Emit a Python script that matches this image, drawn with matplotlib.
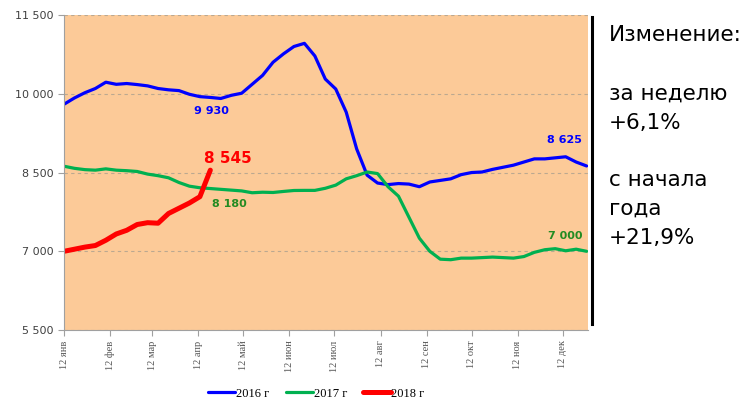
import matplotlib.pyplot as plt

# weekly values, week 0 = 12 Jan
y2016 = [9800, 9920, 10020, 10100, 10220, 10180, 10195, 10175, 10150, 10100,
         10075, 10060, 9990, 9945, 9930, 9910, 9970, 10010, 10180, 10350,
         10600, 10760, 10900, 10960, 10720, 10280, 10090, 9650, 8950, 8450,
         8300, 8270, 8290, 8280, 8230, 8320, 8350, 8380, 8460, 8500,
         8510, 8560, 8600, 8640, 8700, 8760, 8760, 8780, 8800, 8700,
         8625]
y2017 = [8620, 8580, 8555, 8545, 8570, 8545, 8535, 8520, 8470, 8440,
         8400, 8310, 8240, 8210, 8195, 8180, 8165, 8150, 8115, 8125,
         8120, 8140, 8158, 8160, 8160, 8200, 8260, 8380, 8440, 8510,
         8480, 8230, 8050, 7650, 7250, 7000, 6850, 6840, 6870, 6870,
         6880, 6890, 6880, 6870, 6900, 6980, 7030, 7050, 7010, 7040,
         7000]
y2018 = [7000, 7040, 7080, 7110, 7210, 7330, 7400, 7510, 7545, 7535,
         7720, 7820, 7920, 8040, 8545]

tick_days = [0, 31, 59, 90, 120, 151, 181, 212, 243, 273, 304, 334]
tick_labels = ['12 янв', '12 фев', '12 мар', '12 апр', '12 май', '12 июн',
               '12 июл', '12 авг', '12 сен', '12 окт', '12 ноя', '12 дек']

x16 = [7 * i for i in range(len(y2016))]
x17 = [7 * i for i in range(len(y2017))]
x18 = [7 * i for i in range(len(y2018))]

fig = plt.figure(figsize=(7.53, 4.05), dpi=100)
ax = fig.add_axes([0.085, 0.185, 0.696, 0.778])
ax.set_facecolor('#FCCA98')

ax.plot(x16, y2016, color='#0000FF', lw=2.3, label='2016 г', solid_capstyle='round')
ax.plot(x17, y2017, color='#00B050', lw=2.3, label='2017 г', solid_capstyle='round')
ax.plot(x18, y2018, color='#FF0000', lw=3.6, label='2018 г', solid_capstyle='round')

ax.set_xlim(0, 351)
ax.set_ylim(5500, 11500)
ax.set_yticks([5500, 7000, 8500, 10000, 11500])
ax.set_yticklabels(['5 500', '7 000', '8 500', '10 000', '11 500'],
                   fontsize=8, color='#404040')
ax.set_xticks(tick_days)
ax.set_xticklabels(tick_labels, rotation=90, fontsize=7.5,
                   family='Liberation Serif', color='#555555')
ax.tick_params(axis='both', length=4, color='#A0A0A0')
ax.yaxis.grid(True, linestyle=(0, (3, 3)), color='#BBA890', lw=0.8)
ax.set_axisbelow(True)
for s in ['top', 'right']:
    ax.spines[s].set_visible(False)
for s in ['left', 'bottom']:
    ax.spines[s].set_color('#A0A0A0')
    ax.spines[s].set_linewidth(0.8)

# value labels
ax.text(99, 9930 - 320, '9 930', color='#0000FF', fontsize=8, fontweight='bold', ha='center')
ax.text(110, 8545 + 130, '8 545', color='#FF0000', fontsize=11, fontweight='bold', ha='center')
ax.text(111, 8180 - 330, '8 180', color='#228B22', fontsize=8, fontweight='bold', ha='center')
ax.text(335, 8625 + 440, '8 625', color='#0000FF', fontsize=8, fontweight='bold', ha='center')
ax.text(336, 7000 + 230, '7 000', color='#228B22', fontsize=8, fontweight='bold', ha='center')

leg = fig.legend(loc='center', bbox_to_anchor=(0.42, 0.028), ncol=3, frameon=False,
                 prop={'family': 'Liberation Serif', 'size': 9},
                 handlelength=2.2, columnspacing=1.3, handletextpad=0.05)

# right-hand panel
fig.add_artist(plt.Line2D([0.786, 0.786], [0.2, 0.958], color='black', lw=2.2))
lines = [('Изменение:', 35), ('за неделю', 94), ('+6,1%', 123),
         ('с начала', 180), ('года', 209), ('+21,9%', 238)]
for txt, ypx in lines:
    fig.text(609 / 753, 1 - ypx / 405, txt, fontsize=15.5, va='center', ha='left', color='black')

fig.savefig('out.png', dpi=100)
